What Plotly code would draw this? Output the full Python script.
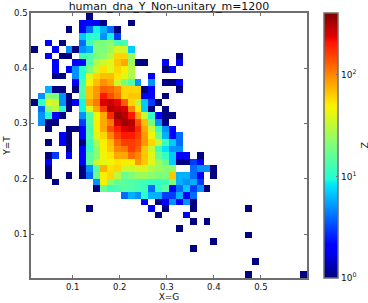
import numpy as np
import plotly.graph_objects as go

title_text = "human_dna_Y_Non-unitary_m=1200"
x_label = "X=G"
y_label = "Y=T"
z_label = "Z"
x_ticks = [0.1, 0.2, 0.3, 0.4, 0.5]
y_ticks = [0.1, 0.2, 0.3, 0.4, 0.5]
z_ticks = [1, 10, 100]
z_tick_text = ["10<sup>0</sup>", "10<sup>1</sup>", "10<sup>2</sup>"]
x_range = [0.0113, 0.598]
y_range = [0.0204, 0.5]
z_max = 407
n_bins = 40

# (row from the top, first column, counts); 0 means an empty bin
cells = [
    (0, 8, [1]),
    (1, 7, [2, 2, 2, 1, 0, 0, 0, 1]),
    (2, 5, [1, 0, 2, 4, 9, 6, 4, 1]),
    (3, 7, [7, 10, 10, 5, 9, 3]),
    (4, 2, [2, 0, 1, 0, 0, 4, 12, 20, 20, 22, 13, 13]),
    (5, 0, [1, 0, 0, 2, 0, 5, 1, 5, 6, 20, 20, 25, 38, 34, 7]),
    (6, 2, [2, 0, 1, 1, 0, 12, 14, 20, 22, 30, 60, 60, 25]),
    (6, 21, [1]),
    (7, 3, [2, 0, 0, 2, 2, 14, 28, 34, 40, 66, 80, 25, 1, 1, 0, 0, 2, 0, 2]),
    (8, 3, [2, 0, 2, 5, 10, 20, 34, 55, 40, 60, 50, 30, 0, 0, 0, 0, 1, 2]),
    (9, 3, [1, 1, 0, 5, 10, 40, 60, 70, 70, 55, 40, 28, 0, 0, 2]),
    (10, 6, [2, 13, 45, 70, 95, 80, 34, 20, 14, 5, 0, 5, 0, 1, 1, 2]),
    (11, 2, [6, 1, 1, 0, 1, 14, 66, 90, 130, 120, 100, 60, 60, 60, 1, 2, 0, 0, 0, 1]),
    (12, 1, [5, 22, 20, 5, 1, 0, 13, 66, 90, 205, 145, 110, 60, 66, 66, 2, 2, 0, 1]),
    (13, 0, [1, 11, 40, 34, 5, 1, 2, 9, 80, 110, 250, 275, 230, 130, 60, 30, 7, 3, 1]),
    (14, 1, [4, 22, 30, 10, 1, 0, 9, 40, 80, 160, 300, 275, 250, 100, 50, 7, 1, 0, 1]),
    (15, 1, [5, 10, 2, 1, 0, 0, 5, 15, 45, 80, 185, 350, 300, 205, 80, 34, 11, 2, 1, 1]),
    (16, 1, [5, 1, 1, 0, 0, 0, 3, 14, 50, 80, 110, 275, 350, 300, 145, 70, 20, 5, 1]),
    (17, 2, [1, 0, 0, 1, 1, 2, 13, 50, 80, 145, 200, 250, 275, 185, 80, 34, 11, 5, 2]),
    (18, 4, [2, 1, 0, 2, 14, 40, 60, 100, 160, 205, 200, 160, 90, 45, 17, 6, 2, 4]),
    (19, 2, [1, 0, 2, 1, 0, 1, 12, 28, 50, 70, 120, 160, 160, 145, 90, 60, 34, 12, 7, 4]),
    (20, 5, [1, 0, 2, 11, 22, 50, 66, 100, 110, 160, 130, 66, 34, 12, 8, 5, 5]),
    (21, 2, [1, 3, 0, 2, 0, 2, 15, 22, 45, 55, 80, 80, 120, 100, 66, 40, 17, 11, 7, 2, 2, 0, 1]),
    (22, 2, [2, 0, 0, 0, 0, 2, 15, 34, 42, 45, 55, 50, 50, 90, 66, 40, 25, 17, 7, 1, 1, 3, 2]),
    (23, 2, [1, 0, 0, 0, 0, 1, 5, 15, 75, 55, 60, 34, 34, 38, 38, 28, 25, 22, 22, 0, 0, 4, 5, 5, 1]),
    (24, 2, [1, 0, 0, 1, 0, 1, 4, 17, 50, 60, 30, 17, 20, 25, 25, 22, 20, 20, 66, 6, 6, 4, 2, 0, 1]),
    (25, 3, [1, 0, 0, 0, 0, 0, 5, 50, 22, 17, 15, 14, 13, 12, 11, 11, 12, 20, 6, 5, 6, 3]),
    (26, 9, [1, 17, 12, 13, 15, 14, 13, 12, 4, 11, 15, 2, 4, 7, 3, 5, 1]),
    (27, 13, [4, 6, 5, 10, 6, 6, 3, 3, 6, 2, 4]),
    (28, 16, [2, 0, 1, 2, 5, 2, 5, 1]),
    (29, 8, [1]),
    (29, 17, [2, 0, 1, 0, 0, 0, 1]),
    (29, 31, [1]),
    (30, 18, [1, 0, 0, 0, 2]),
    (31, 23, [1, 0, 1]),
    (32, 21, [1]),
    (33, 31, [1]),
    (34, 26, [1]),
    (35, 23, [1]),
    (37, 32, [1]),
    (39, 31, [1]),
    (39, 39, [1]),
]

counts = np.zeros((n_bins, n_bins))
for row, start, values in cells:
    for offset, value in enumerate(values):
        if value:
            counts[n_bins - 1 - row, start + offset] = value
log_counts = np.where(counts > 0, np.log10(np.where(counts > 0, counts, 1)), np.nan)

x_edges = np.linspace(x_range[0], x_range[1], n_bins + 1)
y_edges = np.linspace(y_range[0], y_range[1], n_bins + 1)

jet = [
    [0.0, "#000080"], [0.11, "#0000ff"], [0.125, "#0000ff"], [0.34, "#00dcff"], [0.35, "#00e5f7"],
    [0.375, "#20ffd7"], [0.5, "#7dff7a"], [0.64, "#f7f500"], [0.66, "#ffea00"], [0.89, "#ff1300"],
    [0.91, "#e40000"], [1.0, "#800000"],
]

INK = "#111111"
EDGE = "#6e6e6e"
fig = go.Figure(go.Heatmap(
    x=x_edges, y=y_edges, z=log_counts, colorscale=jet, zmin=0, zmax=np.log10(z_max),
    hoverongaps=False, xgap=0, ygap=0,
    colorbar=dict(
        x=(324 - 31) / 276, xanchor="left", y=0, yanchor="bottom", len=1, lenmode="fraction",
        thickness=14, thicknessmode="pixels", xpad=0, ypad=0,
        tickvals=np.log10(z_ticks).tolist(), ticktext=z_tick_text,
        ticks="inside", ticklen=2, tickcolor=EDGE, tickfont=dict(size=9, color=INK),
        outlinecolor=EDGE, outlinewidth=1.5,
    ),
))
axis_style = dict(
    showgrid=False, zeroline=False, showline=True, linecolor=EDGE, linewidth=1.5, mirror="ticks",
    ticks="inside", ticklen=3, tickcolor=EDGE, tickwidth=1, tickfont=dict(size=8.5, color=INK),
)
fig.update_xaxes(range=x_range, tickvals=x_ticks, ticktext=["0.1", "0.2", "0.3", "0.4", "0.5"],
                 title=dict(text=x_label, font=dict(size=9, color=INK), standoff=2), **axis_style)
fig.update_yaxes(range=y_range, tickvals=y_ticks, ticktext=["0.1", "0.2", "0.3", "0.4", "0.5"],
                 title=dict(text=y_label, font=dict(size=9, color=INK), standoff=2), **axis_style)
fig.add_annotation(text=z_label, xref="paper", yref="paper", x=(364 - 31) / 276, y=0.5,
                   xanchor="center", yanchor="middle", textangle=-90, showarrow=False,
                   font=dict(size=9.5, color=INK))
fig.update_layout(
    width=368, height=303, paper_bgcolor="white", plot_bgcolor="white",
    font=dict(family="DejaVu Sans", size=9, color=INK),
    margin=dict(l=31, r=61, t=13, b=25, autoexpand=False),
    title=dict(text=title_text, x=169 / 368, xanchor="center", y=1 - 6 / 303, yanchor="middle",
               font=dict(size=11, color=INK)),
)
fig.write_html("out.html", config={"displayModeBar": False},
               post_script="document.body.style.margin='0';document.documentElement.style.overflow='hidden';")
